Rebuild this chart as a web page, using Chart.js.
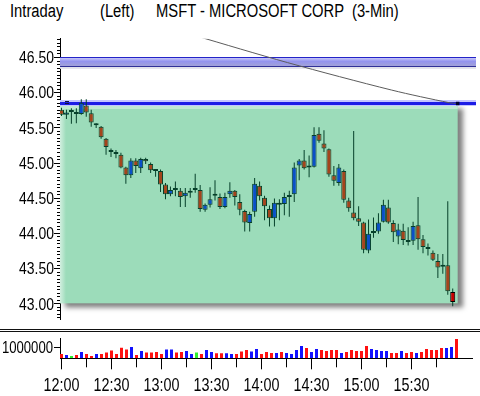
<!DOCTYPE html>
<html>
<head>
<meta charset="utf-8">
<script src="https://cdn.jsdelivr.net/npm/chart.js@4.4.0/dist/chart.umd.min.js"></script>
<style>
  body { margin: 0; background: #fff; }
  #wrap { position: relative; width: 480px; height: 396px; overflow: hidden;
          font-family: 'Liberation Sans', Arial, sans-serif; }
  .t { position: absolute; top: 0; font-size: 18px; line-height: 22px; white-space: pre; color: #000;
       transform: scaleX(0.82); transform-origin: 0 0; }
  .sep { position: absolute; left: 0; width: 480px; height: 1px; background: #111; }
  #priceChart { position: absolute; left: 0; top: 0; }
  #volChart { position: absolute; left: 0; top: 333px; }
</style>
</head>
<body>
<div id="wrap">
  <span class="t" style="left:10px">Intraday</span>
  <span class="t" style="left:100px">(Left)</span>
  <span class="t" style="left:156px">MSFT - MICROSOFT CORP  (3-Min)</span>
  <div class="sep" style="top:329px"></div>
  <div class="sep" style="top:331px"></div>
  <canvas id="priceChart" width="480" height="330"></canvas>
  <canvas id="volChart" width="480" height="63"></canvas>
</div>
<script>
// 3-min bars from 12:00
const opens = [45.75, 45.68, 45.72, 45.69, 45.69, 45.81, 45.70, 45.53, 45.51, 45.34,
  45.15, 45.15, 45.11, 44.93, 44.82, 45.03, 44.92, 45.05, 44.98, 44.88,
  44.88, 44.69, 44.55, 44.61, 44.60, 44.52, 44.57, 44.61, 44.61, 44.33,
  44.40, 44.53, 44.51, 44.37, 44.55, 44.60, 44.44, 44.31, 44.14, 44.30,
  44.67, 44.50, 44.34, 44.21, 44.40, 44.41, 44.51, 44.55, 44.96, 45.03,
  44.93, 44.94, 45.41, 45.27, 45.19, 44.82, 44.71, 44.88, 44.46, 44.29,
  44.21, 44.15, 43.75, 44.00, 44.02, 44.16, 44.36, 44.14, 43.95, 44.03,
  43.90, 43.89, 44.11, 43.91, 43.80, 43.72, 43.60, 43.52, 43.54, 43.16];
const highs = [45.78, 45.75, 45.77, 45.77, 45.90, 45.90, 45.75, 45.56, 45.52, 45.35,
  45.20, 45.18, 45.14, 44.94, 45.06, 45.06, 45.07, 45.07, 45.00, 44.90,
  44.90, 44.71, 44.66, 44.73, 44.64, 44.64, 44.64, 44.84, 44.68, 44.42,
  44.65, 44.75, 44.56, 44.57, 44.72, 44.61, 44.55, 44.33, 44.30, 44.78,
  44.73, 44.53, 44.39, 44.49, 44.48, 44.57, 44.60, 45.00, 45.05, 45.18,
  45.10, 45.50, 45.50, 45.46, 45.20, 44.95, 44.98, 44.90, 44.50, 45.45,
  44.38, 44.16, 44.19, 44.22, 44.28, 44.47, 44.47, 44.18, 44.13, 44.13,
  44.08, 44.16, 44.51, 43.97, 43.85, 43.75, 43.70, 43.70, 44.45, 43.21];
const lows = [45.66, 45.62, 45.55, 45.56, 45.68, 45.65, 45.51, 45.49, 45.34, 45.11,
  45.08, 45.06, 44.92, 44.70, 44.78, 44.85, 44.85, 44.98, 44.85, 44.80,
  44.58, 44.48, 44.52, 44.52, 44.37, 44.37, 44.50, 44.57, 44.30, 44.30,
  44.36, 44.46, 44.34, 44.35, 44.50, 44.39, 44.25, 44.02, 44.02, 44.23,
  44.46, 44.18, 44.09, 44.09, 44.18, 44.25, 44.23, 44.44, 44.75, 44.90,
  44.79, 44.93, 45.28, 45.15, 44.80, 44.67, 44.67, 44.43, 44.30, 44.18,
  44.10, 43.71, 43.71, 43.93, 43.99, 44.15, 44.13, 43.87, 43.84, 43.83,
  43.82, 43.83, 43.76, 43.71, 43.68, 43.60, 43.36, 43.42, 43.12, 42.96];
const closes = [45.68, 45.71, 45.72, 45.69, 45.85, 45.71, 45.57, 45.53, 45.36, 45.22,
  45.15, 45.12, 44.93, 44.82, 45.03, 44.95, 45.05, 45.02, 44.89, 44.88,
  44.69, 44.55, 44.61, 44.61, 44.51, 44.57, 44.60, 44.61, 44.34, 44.40,
  44.48, 44.53, 44.37, 44.51, 44.60, 44.51, 44.33, 44.15, 44.27, 44.70,
  44.52, 44.38, 44.21, 44.43, 44.40, 44.51, 44.54, 44.93, 45.03, 44.92,
  44.93, 45.39, 45.31, 45.20, 44.83, 44.74, 44.93, 44.47, 44.35, 44.21,
  44.16, 43.76, 43.99, 44.00, 44.15, 44.40, 44.15, 44.01, 44.05, 43.90,
  43.87, 44.10, 43.91, 43.80, 43.77, 43.62, 43.51, 43.52, 43.17, 43.02];
const volumes = [390000, 300000, 210000, 300000, 580000, 390000, 210000, 390000, 390000, 520000,
  700000, 390000, 970000, 790000, 1030000, 300000, 670000, 520000, 520000, 580000,
  390000, 790000, 790000, 520000, 580000, 670000, 390000, 520000, 390000, 760000,
  580000, 450000, 450000, 450000, 390000, 390000, 610000, 760000, 610000, 850000,
  390000, 580000, 480000, 480000, 580000, 480000, 390000, 760000, 1120000, 940000,
  580000, 850000, 760000, 670000, 760000, 760000, 480000, 580000, 760000, 670000,
  670000, 1120000, 850000, 760000, 670000, 670000, 480000, 480000, 670000, 480000,
  580000, 480000, 580000, 850000, 760000, 760000, 940000, 940000, 1030000, 1760000];
// 1 = up, -1 = down, 0 = unchanged
const volumeDir = [-1, 1, 0, -1, 1, -1, -1, 1, -1, -1,
  -1, -1, -1, -1, 1, -1, 1, -1, -1, -1,
  -1, 1, 1, -1, -1, 1, 1, 0, -1, 1,
  1, -1, -1, 1, 1, -1, -1, -1, 1, 1,
  -1, -1, -1, 1, -1, 1, 1, 1, 1, -1,
  1, 1, -1, -1, -1, -1, 1, -1, -1, -1,
  -1, -1, 1, 1, 1, 1, -1, -1, 1, -1,
  -1, 1, -1, -1, -1, -1, -1, 1, 1, -1];

const priceTicks = ['43.00', '43.50', '44.00', '44.50', '45.00', '45.50', '46.00', '46.50'];
const volumeTicks = ['1000000'];
const timeTicks = ['12:00', '12:30', '13:00', '13:30', '14:00', '14:30', '15:00', '15:30'];

const resistance = 45.84;
const bandLevels = [46.36, 46.50];
const zoneLevels = [43.00, 45.84];
const zoneEnd = '16:00';
const trendTimes = ['13:20', '14:17', '15:20', '15:55', '16:00'];
const trendValues = [46.81, 46.42, 46.03, 45.85, 45.84];

const FONT = "'Liberation Sans', Arial, sans-serif";
const NARROW = 0.82;
const PX_PER_MIN = 5 / 3;
const X_MIN = -0.9;

function toMin(s) {
  const p = s.split(':').map(Number);
  return (p[0] - 12) * 60 + p[1];
}
const barTimes = opens.map((_, i) => 3 * i);
const last = opens.length - 1;

const bodyData = barTimes.map((t, i) => ({ x: t, y: [opens[i], closes[i]] }));
const wickData = barTimes.map((t, i) => ({ x: t, y: [lows[i], highs[i]] }));
const bodyColors = opens.map((o, i) => i === last ? '#c80000' : closes[i] > o ? '#0a50c8' : '#a4441c');
const bodyBorders = opens.map((o, i) => i === last ? '#000000' : '#06402a');
const trendData = trendTimes.map((s, i) => ({ x: toMin(s), y: trendValues[i] }));

// narrow text, like the original terminal font
function narrowText(ctx, text, x, y, size, align) {
  ctx.save();
  ctx.font = size + 'px ' + FONT;
  ctx.fillStyle = '#000';
  ctx.textAlign = align;
  ctx.textBaseline = 'alphabetic';
  ctx.translate(x, y);
  ctx.scale(NARROW, 1);
  ctx.fillText(text, 0, 0);
  ctx.restore();
}

const overlay = {
  id: 'overlay',
  beforeDatasetsDraw(chart) {
    const { ctx, chartArea: a, scales: { x, y } } = chart;
    ctx.save();
    // green zone with drop shadow
    const zr = x.getPixelForValue(toMin(zoneEnd));
    const zt = y.getPixelForValue(zoneLevels[1]);
    const zb = y.getPixelForValue(zoneLevels[0]);
    ctx.save();
    ctx.shadowColor = 'rgba(0,0,0,0.5)';
    ctx.shadowOffsetX = 5;
    ctx.shadowOffsetY = 5;
    ctx.shadowBlur = 5;
    ctx.fillStyle = '#9cdcba';
    ctx.fillRect(a.left, zt, zr - a.left, zb - zt);
    ctx.restore();
    const lg = ctx.createLinearGradient(a.left, 0, a.left + 6, 0);
    lg.addColorStop(0, 'rgba(255,255,255,0.55)');
    lg.addColorStop(1, 'rgba(255,255,255,0)');
    ctx.fillStyle = lg;
    ctx.fillRect(a.left, zt, 6, zb - zt);

    // upper band
    const bt = y.getPixelForValue(bandLevels[1]);
    const bb = y.getPixelForValue(bandLevels[0]);
    const g = ctx.createLinearGradient(0, bt, 0, bb);
    g.addColorStop(0, '#d4d4fa');
    g.addColorStop(0.45, '#9494ee');
    g.addColorStop(1, '#a4a4d4');
    ctx.fillStyle = g;
    ctx.fillRect(a.left, bt, a.right - a.left, bb - bt);
    ctx.fillStyle = '#e2e2ea';
    ctx.fillRect(a.left, bb, a.right - a.left, 2);
    ctx.fillStyle = '#2424c8';
    ctx.fillRect(a.left, Math.round(bt), a.right - a.left, 1);
    ctx.fillStyle = '#303098';
    ctx.fillRect(a.left, Math.round(bb) - 1, a.right - a.left, 1);

    // resistance line
    const ry = Math.round(y.getPixelForValue(resistance));
    ctx.fillStyle = '#c4c4ff';
    ctx.fillRect(a.left, ry - 3, a.right - a.left, 6);
    ctx.fillStyle = '#bfe8d2';
    ctx.fillRect(a.left, ry + 3, zr - a.left, 3);
    ctx.fillStyle = '#1c1ce6';
    ctx.fillRect(a.left, ry - 1, a.right - a.left, 3);
    // start marker
    const mx = Math.round(x.getPixelForValue(3)) - 1;
    ctx.fillStyle = '#10103a';
    ctx.fillRect(mx, ry - 2, 4, 1);
    ctx.fillRect(mx, ry, 4, 1);
    ctx.restore();
  },
  afterDraw(chart) {
    const { ctx, chartArea: a, scales: { y } } = chart;
    ctx.save();
    ctx.strokeStyle = '#000';
    ctx.lineWidth = 1;
    ctx.beginPath();
    for (let k = Math.ceil(y.min * 20); k <= Math.floor(y.max * 20); k++) {
      const py = Math.round(y.getPixelForValue(k / 20)) + 0.5;
      const len = k % 10 === 0 ? 6 : 3;
      ctx.moveTo(a.left - len, py);
      ctx.lineTo(a.left, py);
    }
    ctx.stroke();
    ctx.restore();
    priceTicks.forEach(p => {
      narrowText(ctx, p, a.left - 6, y.getPixelForValue(parseFloat(p)) + 6.2, 17, 'right');
    });
  }
};

new Chart(document.getElementById('priceChart'), {
  type: 'bar',
  data: {
    datasets: [
      {
        type: 'line', data: trendData, borderColor: '#5c5c5c', borderWidth: 1,
        tension: 0.3, pointStyle: 'rect', pointBorderWidth: 0,
        pointRadius: trendData.map((_, i) => i === trendData.length - 1 ? 2.5 : 0),
        pointBackgroundColor: '#000030', order: 0
      },
      {
        data: bodyData, grouped: false, barThickness: 5, backgroundColor: bodyColors,
        borderColor: bodyBorders, borderWidth: 1, borderSkipped: false, minBarLength: 2,
        inflateAmount: 0, order: 1
      },
      {
        data: wickData, grouped: false, barThickness: 1, backgroundColor: '#06402a',
        borderWidth: 0, inflateAmount: 0, order: 2
      }
    ]
  },
  options: {
    responsive: false, animation: false, devicePixelRatio: 1,
    layout: { padding: { top: 38.7, bottom: 10.5, left: 0, right: 0 } },
    plugins: { legend: { display: false }, tooltip: { enabled: false } },
    scales: {
      x: { type: 'linear', display: false, offset: false, min: X_MIN, max: X_MIN + 420 / PX_PER_MIN },
      y: {
        type: 'linear', min: 42.77, max: 46.76,
        afterBuildTicks: s => { s.ticks = priceTicks.map(v => ({ value: parseFloat(v) })); },
        afterFit: s => { s.width = 60; },
        grid: { display: false, drawTicks: false },
        border: { display: true, color: '#000', width: 1 },
        ticks: { display: false }
      }
    }
  },
  plugins: [overlay]
});

const volTicks = {
  id: 'volTicks',
  afterDraw(chart) {
    const { ctx, chartArea: a, scales: { x, y } } = chart;
    ctx.save();
    ctx.strokeStyle = '#000';
    ctx.lineWidth = 1;
    ctx.beginPath();
    for (let m = 0; m <= toMin(timeTicks[timeTicks.length - 1]) + 15; m += 15) {
      const px = Math.floor(x.getPixelForValue(m)) + 0.5;
      ctx.moveTo(px, a.bottom);
      ctx.lineTo(px, a.bottom + (m % 30 === 0 ? 11 : 9));
    }
    volumeTicks.forEach(v => {
      const py = Math.round(y.getPixelForValue(parseFloat(v))) + 0.5;
      ctx.moveTo(a.left - 6, py);
      ctx.lineTo(a.left, py);
    });
    ctx.stroke();
    ctx.restore();
    timeTicks.forEach(s => {
      narrowText(ctx, s, x.getPixelForValue(toMin(s)), a.bottom + 33, 17.5, 'center');
    });
    volumeTicks.forEach(v => {
      narrowText(ctx, v, a.left - 7, y.getPixelForValue(parseFloat(v)) + 5.8, 16, 'right');
    });
  }
};

new Chart(document.getElementById('volChart'), {
  type: 'bar',
  data: {
    datasets: [{
      data: barTimes.map((t, i) => ({ x: t, y: volumes[i] })),
      barThickness: 3, inflateAmount: 0, borderWidth: 0,
      backgroundColor: volumeDir.map(d => d > 0 ? '#1010ff' : d < 0 ? '#ff1010' : '#30f030')
    }]
  },
  options: {
    responsive: false, animation: false, devicePixelRatio: 1,
    layout: { padding: { top: 5.5, bottom: 0, left: 0, right: 8 } },
    plugins: { legend: { display: false }, tooltip: { enabled: false } },
    scales: {
      x: {
        type: 'linear', offset: false, min: X_MIN, max: X_MIN + 412 / PX_PER_MIN,
        afterBuildTicks: s => { s.ticks = timeTicks.map(v => ({ value: toMin(v) })); },
        afterFit: s => { s.height = 37.7; },
        grid: { display: false, drawTicks: false },
        border: { display: true, color: '#000', width: 1 },
        ticks: { display: false }
      },
      y: {
        type: 'linear', min: 0, max: 1800000,
        afterBuildTicks: s => { s.ticks = volumeTicks.map(v => ({ value: parseFloat(v) })); },
        afterFit: s => { s.width = 60; },
        grid: { display: false, drawTicks: false },
        border: { display: true, color: '#000', width: 1 },
        ticks: { display: false }
      }
    }
  },
  plugins: [volTicks]
});
</script>
</body>
</html>
